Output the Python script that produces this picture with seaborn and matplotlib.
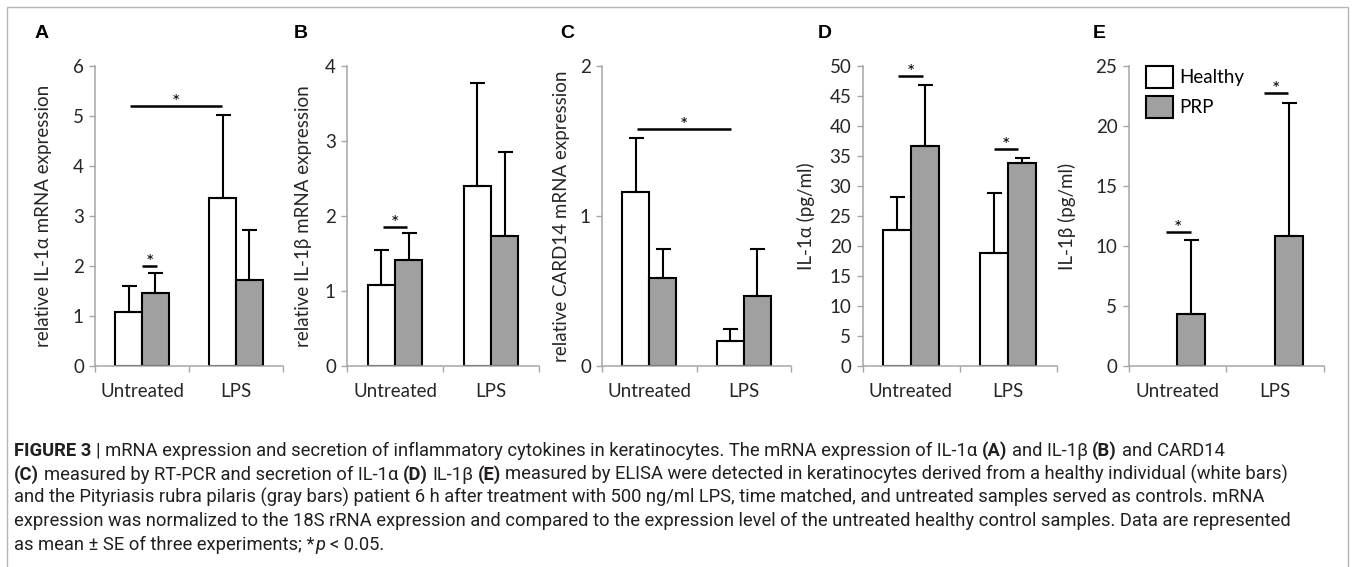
import numpy as np
import pandas as pd
import matplotlib
matplotlib.use("Agg")
import matplotlib.pyplot as plt
import seaborn as sns
from matplotlib.patches import Patch, Rectangle

# === Values (mean and upper SE) ===
conditions = ["Untreated", "LPS"]
groups = ["Healthy", "PRP"]

# A: relative IL-1a mRNA expression
il1a_mrna_healthy = [1.09, 3.36]
il1a_mrna_prp = [1.47, 1.72]
il1a_mrna_healthy_se = [0.51, 1.67]
il1a_mrna_prp_se = [0.40, 1.01]

# B: relative IL-1b mRNA expression
il1b_mrna_healthy = [1.08, 2.40]
il1b_mrna_prp = [1.42, 1.73]
il1b_mrna_healthy_se = [0.47, 1.37]
il1b_mrna_prp_se = [0.36, 1.12]

# C: relative CARD14 mRNA expression
card14_healthy = [1.16, 0.17]
card14_prp = [0.59, 0.47]
card14_healthy_se = [0.36, 0.08]
card14_prp_se = [0.19, 0.31]

# D: IL-1a secretion (pg/ml)
il1a_elisa_healthy = [22.6, 18.8]
il1a_elisa_prp = [36.7, 33.9]
il1a_elisa_healthy_se = [5.6, 10.0]
il1a_elisa_prp_se = [10.1, 0.7]

# E: IL-1b secretion (pg/ml), healthy not detected
il1b_elisa_healthy = [0.0, 0.0]
il1b_elisa_prp = [4.35, 10.85]
il1b_elisa_healthy_se = [0.0, 0.0]
il1b_elisa_prp_se = [6.15, 11.1]

# significance bars: (x start, x end, height) in category units
sig_a = [(0.0, 0.16, 2.01), (-0.13, 0.855, 5.2)]
sig_b = [(-0.13, 0.12, 1.86)]
sig_c = [(-0.13, 0.86, 1.58)]
sig_d = [(-0.13, 0.12, 48.3), (0.855, 1.10, 36.2)]
sig_e = [(-0.12, 0.14, 11.15), (0.885, 1.14, 22.75)]

panels = [
    dict(tag="A", ylabel="relative IL-1α mRNA expression", ymax=6, step=1,
         healthy=il1a_mrna_healthy, prp=il1a_mrna_prp,
         healthy_se=il1a_mrna_healthy_se, prp_se=il1a_mrna_prp_se, sig=sig_a),
    dict(tag="B", ylabel="relative IL-1β mRNA expression", ymax=4, step=1,
         healthy=il1b_mrna_healthy, prp=il1b_mrna_prp,
         healthy_se=il1b_mrna_healthy_se, prp_se=il1b_mrna_prp_se, sig=sig_b),
    dict(tag="C", ylabel="relative CARD14 mRNA expression", ymax=2, step=1,
         healthy=card14_healthy, prp=card14_prp,
         healthy_se=card14_healthy_se, prp_se=card14_prp_se, sig=sig_c),
    dict(tag="D", ylabel="IL-1α (pg/ml)", ymax=50, step=5,
         healthy=il1a_elisa_healthy, prp=il1a_elisa_prp,
         healthy_se=il1a_elisa_healthy_se, prp_se=il1a_elisa_prp_se, sig=sig_d),
    dict(tag="E", ylabel="IL-1β (pg/ml)", ymax=25, step=5,
         healthy=il1b_elisa_healthy, prp=il1b_elisa_prp,
         healthy_se=il1b_elisa_healthy_se, prp_se=il1b_elisa_prp_se, sig=sig_e),
]

# === Layout in pixels (x left, x right, y of ymax, y of 0) ===
W, H = 1356, 567
boxes = [(95, 283, 66, 366), (347, 539, 66, 366), (602, 791, 66, 366),
         (862.5, 1056.5, 66, 366), (1128.5, 1323.5, 66, 366)]
ylabel_x = [44, 303, 562, 806, 1067]
tag_x = [35, 294, 560, 818, 1093]

sns.set_style("ticks")
plt.rcParams["font.family"] = ["Lato", "DejaVu Sans"]
plt.rcParams["text.color"] = "black"

axis_gray = "#a6a6a6"
colors = {"Healthy": "white", "PRP": "#a0a0a0"}
fs = 13.5

fig = plt.figure(figsize=(W / 100, H / 100), dpi=100)

for p, (x0, x1, yt, yb), lx, tx in zip(panels, boxes, ylabel_x, tag_x):
    ax = fig.add_axes([x0 / W, 1 - yb / H, (x1 - x0) / W, (yb - yt) / H])
    df = pd.DataFrame({
        "condition": conditions * 2,
        "group": [groups[0]] * 2 + [groups[1]] * 2,
        "value": p["healthy"] + p["prp"],
        "se": p["healthy_se"] + p["prp_se"],
    })
    sns.barplot(data=df, x="condition", y="value", hue="group", order=conditions,
                hue_order=groups, palette=colors, width=0.57, edgecolor="black",
                linewidth=1.5, errorbar=None, legend=False, ax=ax)

    # upper-only error bars on every bar
    for grp, cont in zip(groups, ax.containers):
        sub = df[df["group"] == grp].set_index("condition")
        for bar in cont:
            xc = bar.get_x() + bar.get_width() / 2
            h = bar.get_height()
            se = sub.loc[conditions[int(round(xc))], "se"]
            if h == 0:
                bar.set_linewidth(0)
                continue
            ax.errorbar(xc, h, yerr=[[0], [se]], fmt="none", ecolor="black",
                        elinewidth=1.5, capsize=5.4, capthick=1.5, zorder=1)

    # significance lines and stars
    for xa, xb, yy in p["sig"]:
        ax.plot([xa, xb], [yy, yy], color="black", lw=1.8, solid_capstyle="butt",
                clip_on=False)
        ax.annotate("*", xy=((xa + xb) / 2, yy), xytext=(0, -1.5),
                    textcoords="offset points", ha="center", va="baseline",
                    fontsize=14, annotation_clip=False)

    ax.set_xlim(-0.5, 1.5)
    ax.set_ylim(0, p["ymax"])
    ax.set_yticks(np.arange(0, p["ymax"] + p["step"] / 2, p["step"]))
    ax.set_yticklabels([f"{v:g}" for v in ax.get_yticks()])
    ax.set_xticks([0, 1])
    ax.set_xticklabels(conditions)
    ax.set_xticks([-0.5, 0.5, 1.5], minor=True)
    ax.tick_params(axis="x", which="major", length=0, pad=12, labelsize=fs)
    ax.tick_params(axis="x", which="minor", length=4, width=1, color=axis_gray,
                   direction="out")
    ax.tick_params(axis="y", which="major", length=4, width=1, color=axis_gray,
                   direction="out", pad=4, labelsize=fs)
    for s in ["top", "right"]:
        ax.spines[s].set_visible(False)
    for s in ["left", "bottom"]:
        ax.spines[s].set_color(axis_gray)
        ax.spines[s].set_linewidth(1.1)
    ax.set_xlabel("")
    ax.set_ylabel(p["ylabel"], fontsize=fs)
    ax.yaxis.label.set_va("center")
    ax.yaxis.set_label_coords((lx - x0) / (x1 - x0), 0.5)

    fig.text(tx / W, 1 - 33 / H, p["tag"], fontsize=14, fontweight="bold",
             family=["Liberation Sans", "DejaVu Sans"], ha="left", va="center")

    if p["tag"] == "E":
        handles = [Patch(facecolor=colors[g], edgecolor="black", linewidth=1.5, label=g)
                   for g in groups]
        ax.legend(handles=handles, loc="upper left", bbox_to_anchor=(0.09, 1.0),
                  frameon=False, fontsize=fs, handlelength=1.45, handleheight=1.4,
                  handletextpad=0.3, labelspacing=0.45, borderpad=0, borderaxespad=0)

# === Caption ===
cap = fig.add_axes([0, 0, 1, 1])
cap.axis("off")
cap.set_xlim(0, W)
cap.set_ylim(H, 0)
cap_family = ["Roboto", "DejaVu Sans"]
cap_fs = 13.2
cap_color = "#231f20"
space_pt = cap_fs * 0.25

lines = [
    [("FIGURE 3", "bold", "normal", False),
     ("| mRNA expression and secretion of inflammatory cytokines in keratinocytes. "
      "The mRNA expression of IL-1α", "normal", "normal", True),
     ("(A)", "bold", "normal", True), ("and IL-1β", "normal", "normal", True),
     ("(B)", "bold", "normal", True), ("and CARD14", "normal", "normal", True)],
    [("(C)", "bold", "normal", False),
     ("measured by RT-PCR and secretion of IL-1α", "normal", "normal", True),
     ("(D)", "bold", "normal", True), ("IL-1β", "normal", "normal", True),
     ("(E)", "bold", "normal", True),
     ("measured by ELISA were detected in keratinocytes derived from a healthy "
      "individual (white bars)", "normal", "normal", True)],
    [("and the Pityriasis rubra pilaris (gray bars) patient 6 h after treatment with "
      "500 ng/ml LPS, time matched, and untreated samples served as controls. mRNA",
      "normal", "normal", False)],
    [("expression was normalized to the 18S rRNA expression and compared to the "
      "expression level of the untreated healthy control samples. Data are represented",
      "normal", "normal", False)],
    [("as mean ± SE of three experiments; *", "normal", "normal", False),
     ("p", "normal", "italic", False), ("< 0.05.", "normal", "normal", True)],
]
line_y = [456, 479.5, 503, 526.5, 550]
for runs, yb in zip(lines, line_y):
    prev = None
    for text, weight, style, gap in runs:
        kw = dict(fontsize=cap_fs, fontweight=weight, fontstyle=style,
                  family=cap_family, color=cap_color, ha="left", va="baseline")
        if prev is None:
            prev = cap.text(14, yb, text, **kw)
        else:
            prev = cap.annotate(text, xy=(1, 0), xycoords=prev,
                                xytext=(space_pt if gap else 0.6, 0),
                                textcoords="offset points", **{**kw, "va": "bottom"})

# figure frame
fig.add_artist(Rectangle((7 / W, -0.05), (1348 - 7) / W, 1 - 7 / H + 0.05,
                         transform=fig.transFigure, fill=False,
                         edgecolor="#b5b5b5", linewidth=1, clip_on=False))

fig.savefig("out.png", dpi=100)
